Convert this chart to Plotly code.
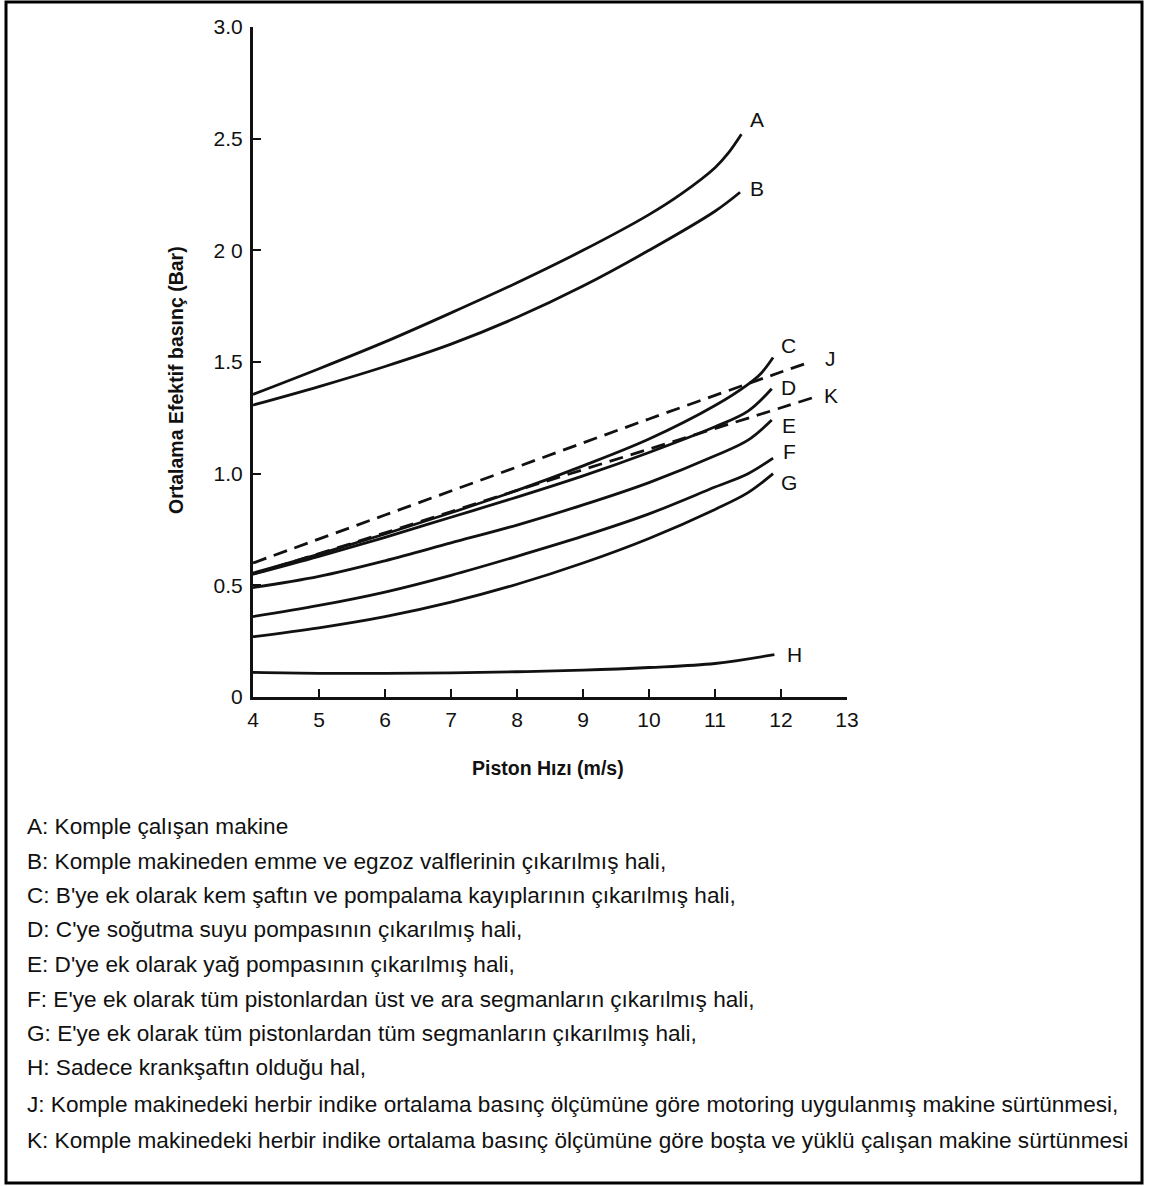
import plotly.graph_objects as go

# ---------------- data ----------------
x_A = [4, 5, 6, 7, 8, 9, 10, 10.5, 11, 11.2, 11.4]
y_A = [1.355, 1.47, 1.59, 1.72, 1.855, 2.0, 2.16, 2.255, 2.37, 2.435, 2.52]

x_B = [4, 5, 6, 7, 8, 9, 10, 11, 11.38]
y_B = [1.307, 1.39, 1.48, 1.58, 1.70, 1.84, 2.0, 2.175, 2.26]

x_C = [4, 5, 6, 7, 8, 9, 10, 11, 11.5, 11.7, 11.88]
y_C = [0.555, 0.64, 0.73, 0.825, 0.925, 1.035, 1.155, 1.305, 1.40, 1.45, 1.52]

x_D = [4, 5, 6, 7, 8, 9, 10, 11, 11.5, 11.86]
y_D = [0.55, 0.63, 0.715, 0.805, 0.895, 0.99, 1.095, 1.21, 1.28, 1.38]

x_E = [4, 5, 6, 7, 8, 9, 10, 11, 11.5, 11.86]
y_E = [0.49, 0.54, 0.61, 0.69, 0.77, 0.86, 0.96, 1.08, 1.15, 1.24]

x_F = [4, 5, 6, 7, 8, 9, 10, 11, 11.5, 11.88]
y_F = [0.36, 0.41, 0.47, 0.545, 0.63, 0.72, 0.82, 0.94, 1.0, 1.07]

x_G = [4, 5, 6, 7, 8, 9, 10, 11, 11.5, 11.88]
y_G = [0.27, 0.31, 0.36, 0.425, 0.505, 0.60, 0.71, 0.84, 0.915, 1.0]

x_H = [4, 5, 6, 7, 8, 9, 10, 11, 11.9]
y_H = [0.11, 0.106, 0.106, 0.108, 0.113, 0.12, 0.132, 0.15, 0.19]

x_J = [4, 6, 8, 10, 12, 12.44]
y_J = [0.60, 0.815, 1.03, 1.245, 1.455, 1.50]

x_K = [4, 6, 8, 10, 12, 12.48]
y_K = [0.55, 0.735, 0.925, 1.11, 1.295, 1.34]

x_ticks = [4, 5, 6, 7, 8, 9, 10, 11, 12, 13]
x_ticktext = ["4", "5", "6", "7", "8", "9", "10", "11", "12", "13"]
y_ticks = [0, 0.5, 1.0, 1.5, 2.0, 2.5, 3.0]
y_ticktext = ["0", "0.5", "1.0", "1.5", "2 0", "2.5", "3.0"]

x_title = "Piston Hızı (m/s)"
y_title = "Ortalama Efektif basınç (Bar)"

legend_lines = [
    "A: Komple çalışan makine",
    "B: Komple makineden emme ve egzoz valflerinin çıkarılmış hali,",
    "C: B'ye ek olarak kem şaftın ve pompalama kayıplarının çıkarılmış hali,",
    "D: C'ye soğutma suyu pompasının çıkarılmış hali,",
    "E: D'ye ek olarak yağ pompasının çıkarılmış hali,",
    "F: E'ye ek olarak tüm pistonlardan üst ve ara segmanların çıkarılmış hali,",
    "G: E'ye ek olarak tüm pistonlardan tüm segmanların çıkarılmış hali,",
    "H: Sadece krankşaftın olduğu hal,",
    "J: Komple makinedeki herbir indike ortalama basınç ölçümüne göre motoring uygulanmış makine sürtünmesi,",
    "K: Komple makinedeki herbir indike ortalama basınç ölçümüne göre boşta ve yüklü çalışan makine sürtünmesi",
]

# ---------------- figure ----------------
W, H = 1150, 1186
L, R, T, B = 253, 303, 27, 489


def pxx(xp):
    return (xp - L) / (W - L - R)


def pxy(yp):
    return (H - B - yp) / (H - T - B)


series = [
    ("A", x_A, y_A, "solid", (16, 15)),
    ("B", x_B, y_B, "solid", (17, 4)),
    ("C", x_C, y_C, "solid", (15, 12)),
    ("D", x_D, y_D, "solid", (17, 1)),
    ("E", x_E, y_E, "solid", (17, -5)),
    ("F", x_F, y_F, "solid", (16, 7)),
    ("G", x_G, y_G, "solid", (16, -9)),
    ("H", x_H, y_H, "solid", (20, 0)),
    ("J", x_J, y_J, "14px,8px", (20, 4)),
    ("K", x_K, y_K, "14px,8px", (18, 2)),
]

fig = go.Figure()
label_font = dict(family="Liberation Sans, Arial, sans-serif", size=21, color="#111")
annotations = []
for name, xs, ys, dash, (dx, dy) in series:
    fig.add_trace(go.Scatter(
        x=xs, y=ys, mode="lines", name=name,
        line=dict(color="#111", width=2.8, dash=dash, shape="spline", smoothing=1.0),
        showlegend=False, hoverinfo="skip",
    ))
    annotations.append(dict(
        x=xs[-1], y=ys[-1], xref="x", yref="y", text=name, showarrow=False,
        xshift=dx, yshift=dy, font=label_font,
    ))

title_font = dict(family="Liberation Sans, Arial, sans-serif", size=19.5, color="#111", weight="bold")
# axis titles
annotations.append(dict(
    x=pxx(548), y=pxy(768), xref="paper", yref="paper", text=x_title,
    xanchor="center", yanchor="middle", showarrow=False, font=title_font,
))
annotations.append(dict(
    x=pxx(176), y=pxy(380), xref="paper", yref="paper", text=y_title,
    xanchor="center", yanchor="middle", showarrow=False, textangle=-90, font=title_font,
))

# explanatory text lines
line_centers = [826, 861, 895, 930, 964, 999, 1033, 1067, 1104, 1140]
for txt, yc in zip(legend_lines, line_centers):
    annotations.append(dict(
        x=pxx(25), y=pxy(yc), xref="paper", yref="paper", text=txt,
        xanchor="left", yanchor="middle", showarrow=False,
        font=dict(family="Liberation Sans, Arial, sans-serif", size=22.6, color="#111"),
    ))

tick_font = dict(family="Liberation Sans, Arial, sans-serif", size=21, color="#111")

fig.update_layout(
    width=W, height=H,
    margin=dict(l=L, r=R, t=T, b=B, pad=0),
    paper_bgcolor="white", plot_bgcolor="white",
    annotations=annotations,
    shapes=[dict(
        type="rect", xref="paper", yref="paper",
        x0=pxx(6), x1=pxx(1142), y0=pxy(2), y1=pxy(1183),
        line=dict(color="black", width=3), fillcolor="rgba(0,0,0,0)", layer="below",
    )],
    xaxis=dict(
        range=[4, 13], tickvals=x_ticks, ticktext=x_ticktext,
        ticks="inside", ticklen=8, tickwidth=2, tickcolor="#111",
        showline=True, linecolor="#111", linewidth=3,
        showgrid=False, zeroline=False, tickfont=tick_font,
        ticklabelstandoff=2,
    ),
    yaxis=dict(
        range=[0, 3.0], tickvals=y_ticks, ticktext=y_ticktext,
        ticks="inside", ticklen=8, tickwidth=2, tickcolor="#111",
        showline=True, linecolor="#111", linewidth=3,
        showgrid=False, zeroline=False, tickfont=tick_font,
        ticklabelstandoff=3,
    ),
)

fig.write_html("out.html")
